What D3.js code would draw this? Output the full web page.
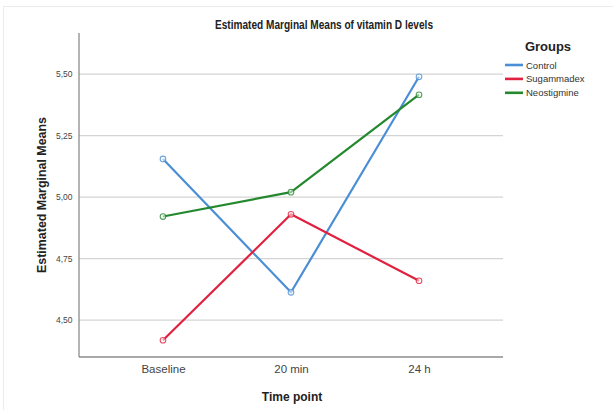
<!DOCTYPE html>
<html><head><meta charset="utf-8">
<script src="https://cdn.jsdelivr.net/npm/d3@7"></script>
<style>body{margin:0;background:#fff}svg{display:block;font-family:"Liberation Sans",Arial,sans-serif}</style>
</head><body><svg id="c" width="613" height="410"></svg>
<script>
const categories = ["Baseline", "20 min", "24 h"];
const groups = ["Control", "Sugammadex", "Neostigmine"];
const control = [5.155, 4.613, 5.489];
const sugammadex = [4.418, 4.930, 4.660];
const neostigmine = [4.921, 5.020, 5.416];
const yTicks = [4.50, 4.75, 5.00, 5.25, 5.50];
const colors = ["#4a8fd6", "#e0213f", "#24882e"];
const series = [control, sugammadex, neostigmine];

const svg = d3.select("#c");
const L = 79, R = 503, T = 33, B = 357;
const x = d3.scalePoint().domain(categories).range([L, R]).padding(0.656);
const y = d3.scaleLinear().domain([4.35, 5.667]).range([B, T]);

// faint frame
svg.append("line").attr("x1",3).attr("x2",613).attr("y1",6.5).attr("y2",6.5).attr("stroke","#ececec");
svg.append("line").attr("x1",3.5).attr("x2",3.5).attr("y1",6).attr("y2",410).attr("stroke","#ececec");

// gridlines
svg.append("g").selectAll("line").data(yTicks).join("line")
  .attr("x1", L).attr("x2", R).attr("y1", d => y(d)).attr("y2", d => y(d))
  .attr("stroke", "#d4d4d4").attr("stroke-width", 1.3);

// y axis
const yAxis = d3.axisLeft(y).tickValues(yTicks).tickSize(0).tickPadding(6)
  .tickFormat(d => d3.format(".2f")(d).replace(".", ","));
const gy = svg.append("g").attr("transform", `translate(${L},0)`).call(yAxis);
gy.select(".domain").remove();
gy.selectAll("text").attr("font-size", 8.5).attr("fill", "#444").attr("font-family", "Liberation Sans, Arial").attr("dx", -0.5);
svg.append("line").attr("x1", L).attr("x2", L).attr("y1", T).attr("y2", B).attr("stroke", "#8c8c8c").attr("stroke-width", 1.3);

// x axis
const xAxis = d3.axisBottom(x).tickSize(0).tickPadding(8);
const gx = svg.append("g").attr("transform", `translate(0,${B})`).call(xAxis);
gx.select(".domain").remove();
gx.selectAll("text").attr("font-size", 11.5).attr("fill", "#444").attr("font-family", "Liberation Sans, Arial");
svg.append("line").attr("x1", L).attr("x2", R).attr("y1", B).attr("y2", B).attr("stroke", "#8c8c8c").attr("stroke-width", 1.3);

// lines
const line = d3.line().x((d, i) => x(categories[i])).y(d => y(d));
series.forEach((s, k) => {
  svg.append("path").datum(s).attr("d", line).attr("fill", "none")
    .attr("stroke", colors[k]).attr("stroke-width", 2.2).attr("stroke-linejoin", "round");
  svg.append("g").selectAll("circle").data(s).join("circle")
    .attr("cx", (d, i) => x(categories[i])).attr("cy", d => y(d)).attr("r", 2.8)
    .attr("fill", "#fff").attr("fill-opacity", 0.5).attr("stroke", colors[k]).attr("stroke-width", 1.1).attr("stroke-opacity", 0.8);
});

// title & labels
svg.append("text").attr("x", 324).attr("y", 29).attr("text-anchor", "middle")
  .attr("font-size", 12).attr("font-weight", "bold").attr("fill", "#222")
  .attr("textLength", 218).attr("lengthAdjust", "spacingAndGlyphs")
  .text("Estimated Marginal Means of vitamin D levels");
svg.append("text").attr("transform", `translate(46,${(T + B) / 2}) rotate(-90)`).attr("text-anchor", "middle")
  .attr("font-size", 12).attr("font-weight", "bold").attr("fill", "#222")
  .attr("textLength", 156).attr("lengthAdjust", "spacingAndGlyphs").text("Estimated Marginal Means");
svg.append("text").attr("x", 292).attr("y", 401).attr("text-anchor", "middle")
  .attr("font-size", 12).attr("font-weight", "bold").attr("fill", "#222").text("Time point");

// legend
svg.append("text").attr("x", 548).attr("y", 51).attr("text-anchor", "middle")
  .attr("font-size", 13).attr("font-weight", "bold").attr("fill", "#222").text("Groups");
const lg = svg.append("g").selectAll("g").data(groups).join("g")
  .attr("transform", (d, i) => `translate(505,${65 + i * 13.9})`);
lg.append("line").attr("x1", 0).attr("x2", 18).attr("stroke", (d, i) => colors[i]).attr("stroke-width", 2.6);
lg.append("text").attr("x", 21).attr("y", 3.5).attr("font-size", 9.5).attr("fill", "#333").text(d => d);
</script></body></html>
